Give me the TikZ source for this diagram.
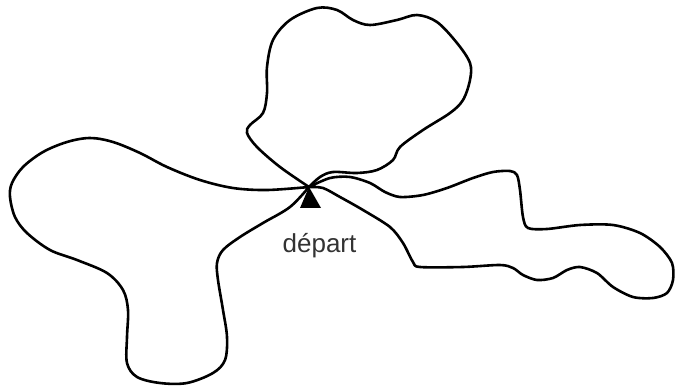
\documentclass[tikz,border=0pt]{standalone}
\usepackage{fontspec}
\setmainfont{Liberation Sans}
\begin{document}
\begin{tikzpicture}[x=1pt,y=-1pt,
  walk/.style={line width=2.6pt,line join=round,line cap=round,black}]
\useasboundingbox (0,0) rectangle (675,390);
\coordinate (c) at (309,187);
% left loop
\draw[walk] plot[smooth,tension=0.55] coordinates{
(309,187) (267,190) (233,188) (200,180) (167,167) (140,153) (113,142) (90,138)
(67,142) (43,152) (23,167) (12,183) (10,197) (15,217) (27,233) (50,250) (77,260)
(107,273) (123,290) (128,310) (127,337) (127,363) (137,377) (160,383) (187,383)
(213,373) (225,360) (227,337) (223,310) (218,280) (217,263) (223,250) (240,237)
(263,223) (290,207) (309,187)};
% top loop
\draw[walk] plot[smooth,tension=0.55] coordinates{
(309,187) (280,167) (257,147) (247,133) (250,125) (263,113) (267,93) (267,67)
(273,40) (290,20) (317,8) (337,10) (353,20) (370,25) (397,20) (417,15) (437,22)
(457,43) (470,63) (470,80) (463,100) (450,113) (423,130) (400,147) (393,160)
(377,170) (357,173) (333,172) (320,177) (309,187)};
% right loop
\draw[walk] plot[smooth,tension=0.5] coordinates{
(309,187) (330,178) (350,177) (370,183) (385,192) (400,197) (423,195) (447,188)
(473,178) (493,172) (510,171) (517,175) (520,190) (523,217) (528,228) (547,229)
(580,225) (613,225) (640,233) (660,247) (672,263) (673,280) (667,293) (653,298)
(633,297) (613,287) (597,273) (580,267) (567,270) (553,278) (537,280) (523,275)
(513,268) (500,265) (463,267) (420,267) (413,262) (403,243) (390,227) (363,210)
(340,197) (323,188) (309,187)};
% start marker
\fill (c) -- (300,208) -- (321,208) -- cycle;
\node[anchor=base,inner sep=0pt,font=\fontsize{26}{30}\selectfont,text=black!80] (lbl) at (319.5,253) {départ};
\end{tikzpicture}
\end{document}
